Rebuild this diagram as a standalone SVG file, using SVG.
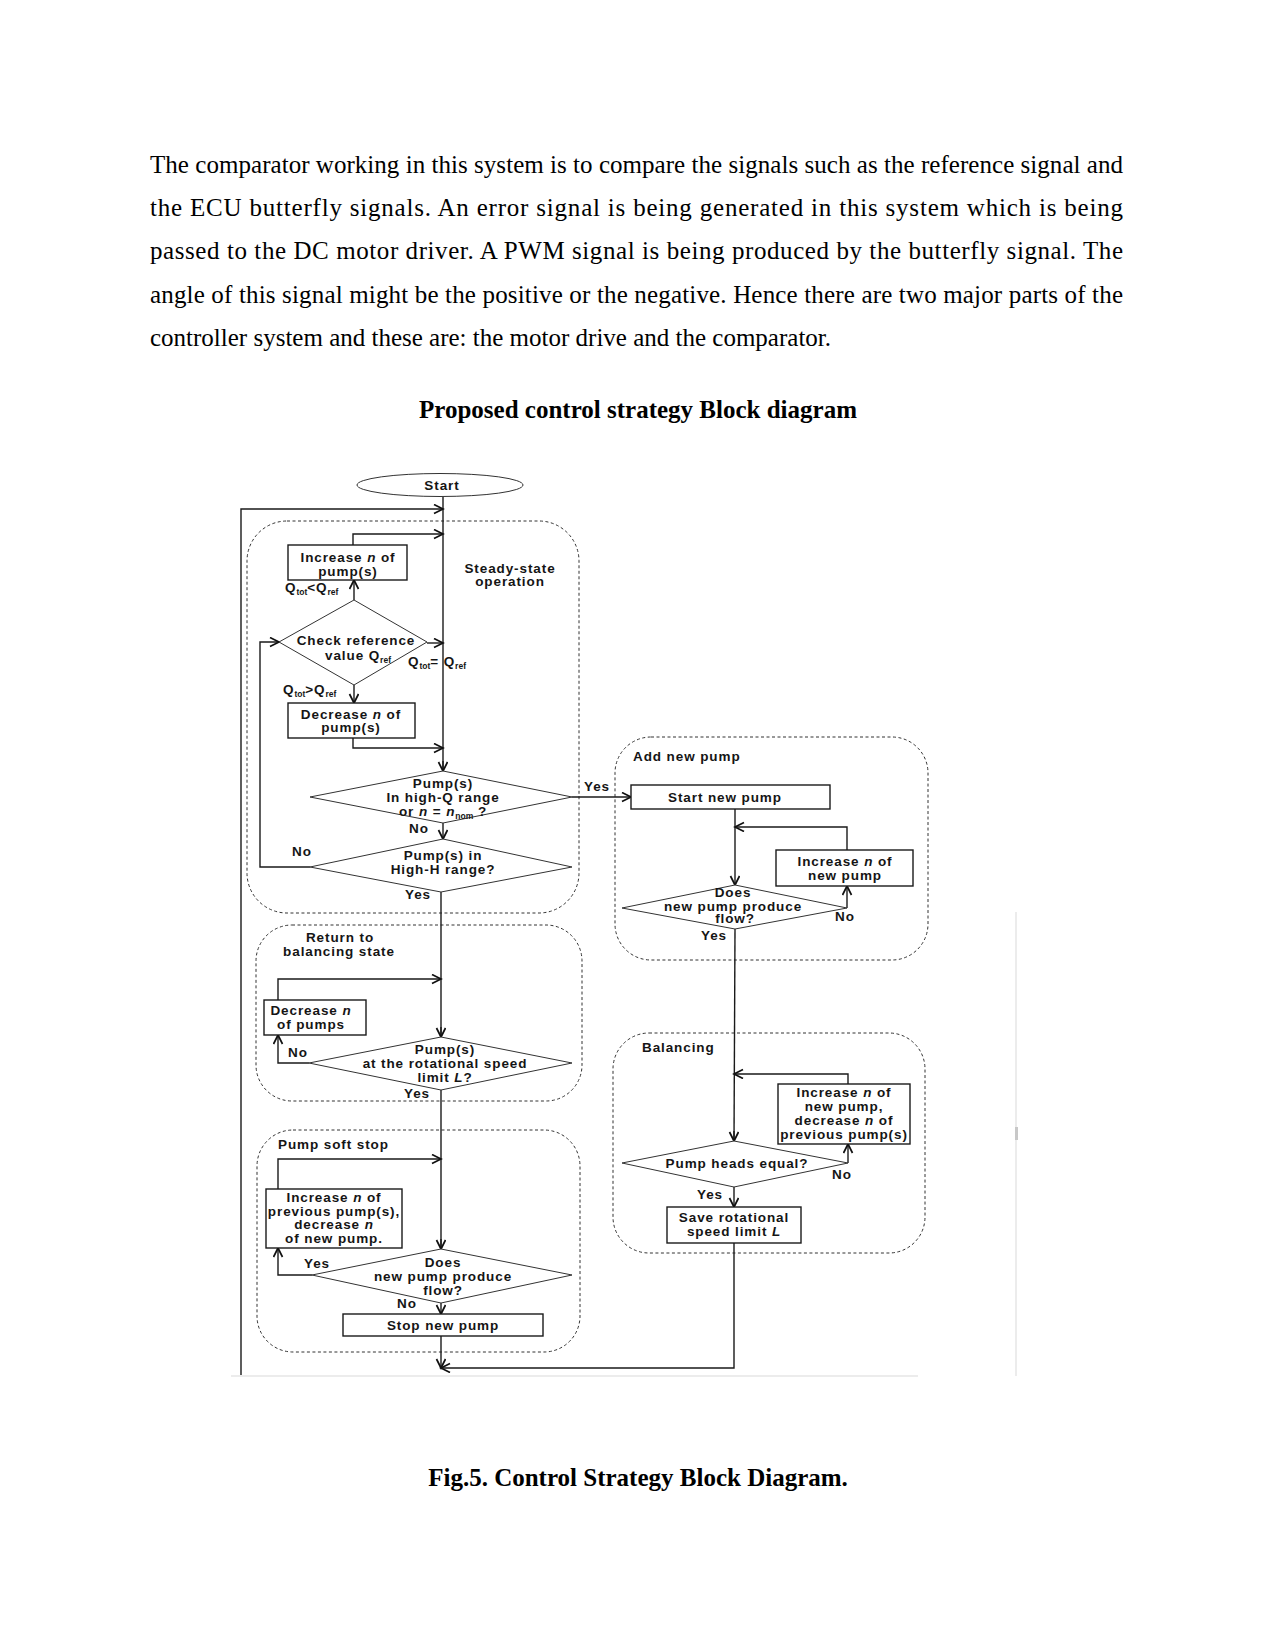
<svg xmlns="http://www.w3.org/2000/svg" width="1275" height="1650" viewBox="0 0 1275 1650">
<defs>
<style>
.body{font-family:"Liberation Serif","Times New Roman",serif;font-size:25px;fill:#000}
.bold{font-weight:bold}
.t{font-family:"Liberation Sans",Arial,sans-serif;font-size:13.5px;font-weight:bold;fill:#151515;letter-spacing:0.9px}
.c{text-anchor:middle}
.box{fill:#fff;stroke:#1a1a1a;stroke-width:1.4}
.dia{fill:#fff;stroke:#333;stroke-width:1}
.grp{fill:none;stroke:#333;stroke-width:1;stroke-dasharray:3,2.5}
.ln{fill:none;stroke:#1a1a1a;stroke-width:1.4}
.ar{fill:none;stroke:#1a1a1a;stroke-width:1.4;marker-end:url(#ah)}
.sub{font-size:8.5px;letter-spacing:0}
</style>
<marker id="ah" markerWidth="12" markerHeight="12" refX="10" refY="5" orient="auto" markerUnits="userSpaceOnUse">
<path d="M1,0.5 L10,5 L1,9.5" fill="none" stroke="#111" stroke-width="1.7"/>
</marker>
</defs>
<rect width="1275" height="1650" fill="#fff"/>

<g id="paragraph">
<text class="body" x="150" y="173" textLength="973" lengthAdjust="spacing">The comparator working in this system is to compare the signals such as the reference signal and</text>
<text class="body" x="150" y="216" textLength="973" lengthAdjust="spacing">the ECU butterfly signals. An error signal is being generated in this system which is being</text>
<text class="body" x="150" y="259" textLength="973" lengthAdjust="spacing">passed to the DC motor driver. A PWM signal is being produced by the butterfly signal. The</text>
<text class="body" x="150" y="303" textLength="973" lengthAdjust="spacing">angle of this signal might be the positive or the negative. Hence there are two major parts of the</text>
<text class="body" x="150" y="346">controller system and these are: the motor drive and the comparator.</text>
</g>
<g id="title"><text class="body bold" x="638" y="418" text-anchor="middle">Proposed control strategy Block diagram</text></g>
<g id="caption"><text class="body bold" x="638" y="1486" text-anchor="middle">Fig.5. Control Strategy Block Diagram.</text></g>

<g id="picture-edges">
<line x1="231" y1="1376" x2="918" y2="1376" stroke="#e6e6e6" stroke-width="1.5"/>
<line x1="1016" y1="912" x2="1016" y2="1376" stroke="#ececec" stroke-width="2"/>
<rect x="1015" y="1127" width="3" height="13" fill="#c8c8c8"/>
</g>

<g id="groups">
<rect id="grp-steady" class="grp" x="247" y="521" width="332" height="392" rx="40"/>
<rect id="grp-add" class="grp" x="615" y="737" width="313" height="223" rx="36"/>
<rect id="grp-return" class="grp" x="256" y="925" width="326" height="176" rx="36"/>
<rect id="grp-balancing" class="grp" x="613" y="1033" width="312" height="220" rx="36"/>
<rect id="grp-softstop" class="grp" x="257" y="1130" width="323" height="222" rx="36"/>
<text class="t c" x="510" y="573">Steady-state</text>
<text class="t c" x="510" y="586">operation</text>
<text class="t" x="633" y="761">Add new pump</text>
<text class="t c" x="340" y="942">Return to</text>
<text class="t c" x="339" y="956">balancing state</text>
<text class="t" x="642" y="1052">Balancing</text>
<text class="t" x="278" y="1149">Pump soft stop</text>
</g>

<g id="connectors">
<polyline class="ln" points="443,497 443,771"/>
<polyline class="ar" points="443,823 443,839"/>
<polyline class="ln" points="441,892 441,1037"/>
<polyline class="ar" points="441,1027 441,1037"/>
<polyline class="ln" points="441,1090 441,1249"/>
<polyline class="ar" points="441,1239 441,1249"/>
<polyline class="ar" points="443,761 443,771"/>
<polyline class="ar" points="241,1375 241,509 443,509"/>
<polyline class="ar" points="353,545 353,534 443,534"/>
<polyline class="ar" points="354,600 354,580"/>
<polyline class="ar" points="427,643 443,643"/>
<polyline class="ar" points="310,867 260,867 260,642 279,642"/>
<polyline class="ar" points="354,685 354,703"/>
<polyline class="ar" points="353,738 353,748 443,748"/>
<polyline class="ar" points="572,797 631,797"/>
<polyline class="ar" points="735,809 735,885"/>
<polyline class="ar" points="847,850 847,827 735,827"/>
<polyline class="ar" points="847,908 847,886"/>
<polyline class="ln" points="735,929 734,1141"/>
<polyline class="ar" points="734,1131 734,1141"/>
<polyline class="ar" points="848,1084 848,1074 734,1074"/>
<polyline class="ar" points="848,1163 848,1144"/>
<polyline class="ar" points="734,1187 734,1207"/>
<polyline class="ar" points="734,1243 734,1368 441,1368"/>
<polyline class="ar" points="278,1000 278,979 441,979"/>
<polyline class="ar" points="309,1063 278,1063 278,1035"/>
<polyline class="ar" points="278,1189 278,1159 441,1159"/>
<polyline class="ar" points="312,1275 278,1275 278,1248"/>
<polyline class="ar" points="441,1303 441,1314"/>
<polyline class="ar" points="441,1336 441,1368"/>
<text class="t" x="285" y="592">Q<tspan class="sub" dy="3">tot</tspan><tspan dy="-3">&lt;Q</tspan><tspan class="sub" dy="3">ref</tspan></text>
<text class="t" x="408" y="666">Q<tspan class="sub" dy="3">tot</tspan><tspan dy="-3">= Q</tspan><tspan class="sub" dy="3">ref</tspan></text>
<text class="t" x="283" y="694">Q<tspan class="sub" dy="3">tot</tspan><tspan dy="-3">&gt;Q</tspan><tspan class="sub" dy="3">ref</tspan></text>
<text class="t c" x="597" y="791">Yes</text>
<text class="t c" x="419" y="833">No</text>
<text class="t c" x="302" y="856">No</text>
<text class="t c" x="418" y="899">Yes</text>
<text class="t c" x="845" y="921">No</text>
<text class="t c" x="714" y="940">Yes</text>
<text class="t c" x="298" y="1057">No</text>
<text class="t c" x="417" y="1098">Yes</text>
<text class="t c" x="842" y="1179">No</text>
<text class="t c" x="710" y="1199">Yes</text>
<text class="t c" x="317" y="1268">Yes</text>
<text class="t c" x="407" y="1308">No</text>
</g>

<g id="node-start">
<ellipse cx="440" cy="485" rx="83" ry="11.5" fill="#fff" stroke="#333" stroke-width="1"/>
<text class="t c" x="442" y="490">Start</text>
</g>

<g id="node-increase-n">
<rect class="box" x="288" y="545" width="119" height="35"/>
<text class="t c" x="348" y="562">Increase <tspan font-style="italic">n</tspan> of</text>
<text class="t c" x="348" y="576">pump(s)</text>
</g>

<g id="node-check-ref">
<polygon class="dia" points="354,600 427,642 354,685 279,642"/>
<text class="t c" x="356" y="645">Check reference</text>
<text class="t c" x="358" y="660">value Q<tspan class="sub" dy="3">ref</tspan></text>
</g>

<g id="node-decrease-n">
<rect class="box" x="288" y="703" width="127" height="35"/>
<text class="t c" x="351" y="719">Decrease <tspan font-style="italic">n</tspan> of</text>
<text class="t c" x="351" y="732">pump(s)</text>
</g>

<g id="node-high-q">
<polygon class="dia" points="443,771 572,797 443,823 310,797"/>
<text class="t c" x="443" y="788">Pump(s)</text>
<text class="t c" x="443" y="802">In high-Q range</text>
<text class="t c" x="443" y="816">or <tspan font-style="italic">n</tspan> = <tspan font-style="italic">n</tspan><tspan class="sub" dy="3">nom</tspan><tspan dy="-3"> ?</tspan></text>
</g>

<g id="node-high-h">
<polygon class="dia" points="443,839 572,867 441,892 310,867"/>
<text class="t c" x="443" y="860">Pump(s) in</text>
<text class="t c" x="443" y="874">High-H range?</text>
</g>

<g id="node-start-new">
<rect class="box" x="631" y="785" width="199" height="24"/>
<text class="t c" x="725" y="802">Start new pump</text>
</g>

<g id="node-increase-new">
<rect class="box" x="776" y="850" width="137" height="36"/>
<text class="t c" x="845" y="866">Increase <tspan font-style="italic">n</tspan> of</text>
<text class="t c" x="845" y="880">new pump</text>
</g>

<g id="node-new-flow">
<polygon class="dia" points="735,885 847,908 735,929 622,908"/>
<text class="t c" x="733" y="897">Does</text>
<text class="t c" x="733" y="911">new pump produce</text>
<text class="t c" x="735" y="923">flow?</text>
</g>

<g id="node-decrease-pumps">
<rect class="box" x="264" y="1000" width="102" height="35"/>
<text class="t c" x="311" y="1015">Decrease <tspan font-style="italic">n</tspan></text>
<text class="t c" x="311" y="1029">of pumps</text>
</g>

<g id="node-speed-limit">
<polygon class="dia" points="441,1037 572,1063 441,1090 309,1063"/>
<text class="t c" x="445" y="1054">Pump(s)</text>
<text class="t c" x="445" y="1068">at the rotational speed</text>
<text class="t c" x="445" y="1082">limit <tspan font-style="italic">L</tspan>?</text>
</g>

<g id="node-increase-decrease">
<rect class="box" x="778" y="1084" width="132" height="60"/>
<text class="t c" x="844" y="1097">Increase <tspan font-style="italic">n</tspan> of</text>
<text class="t c" x="844" y="1111">new pump,</text>
<text class="t c" x="844" y="1125">decrease <tspan font-style="italic">n</tspan> of</text>
<text class="t c" x="844" y="1139">previous pump(s)</text>
</g>

<g id="node-heads-equal">
<polygon class="dia" points="734,1141 848,1163 734,1187 622,1163"/>
<text class="t c" x="737" y="1168">Pump heads equal?</text>
</g>

<g id="node-save-limit">
<rect class="box" x="667" y="1207" width="134" height="36"/>
<text class="t c" x="734" y="1222">Save rotational</text>
<text class="t c" x="734" y="1236">speed limit <tspan font-style="italic">L</tspan></text>
</g>

<g id="node-increase-prev">
<rect class="box" x="266" y="1189" width="136" height="59"/>
<text class="t c" x="334" y="1202">Increase <tspan font-style="italic">n</tspan> of</text>
<text class="t c" x="334" y="1216">previous pump(s),</text>
<text class="t c" x="334" y="1229">decrease <tspan font-style="italic">n</tspan></text>
<text class="t c" x="334" y="1243">of new pump.</text>
</g>

<g id="node-soft-flow">
<polygon class="dia" points="441,1249 572,1275 441,1303 312,1275"/>
<text class="t c" x="443" y="1267">Does</text>
<text class="t c" x="443" y="1281">new pump produce</text>
<text class="t c" x="443" y="1295">flow?</text>
</g>

<g id="node-stop-new">
<rect class="box" x="343" y="1314" width="200" height="22"/>
<text class="t c" x="443" y="1330">Stop new pump</text>
</g>
</svg>
